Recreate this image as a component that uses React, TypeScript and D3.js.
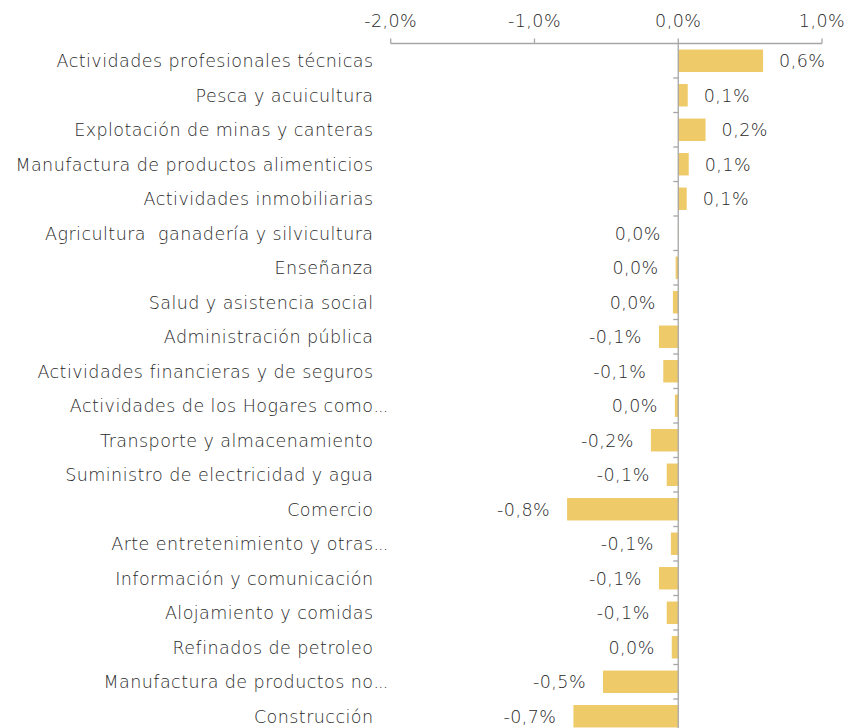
import React from "react";
import * as d3 from "d3";

// sectores (de arriba hacia abajo) y su contribución en puntos porcentuales
const sectors = [
  "Actividades profesionales técnicas",
  "Pesca y acuicultura",
  "Explotación de minas y canteras",
  "Manufactura de productos alimenticios",
  "Actividades inmobiliarias",
  "Agricultura  ganadería y silvicultura",
  "Enseñanza",
  "Salud y asistencia social",
  "Administración pública",
  "Actividades financieras y de seguros",
  "Actividades de los Hogares como...",
  "Transporte y almacenamiento",
  "Suministro de electricidad y agua",
  "Comercio",
  "Arte entretenimiento y otras...",
  "Información y comunicación",
  "Alojamiento y comidas",
  "Refinados de petroleo",
  "Manufactura de productos no...",
  "Construcción",
];

const values = [
  0.59, 0.066, 0.19, 0.073, 0.059, -0.002, -0.018, -0.037, -0.134, -0.104,
  -0.023, -0.19, -0.08, -0.773, -0.051, -0.134, -0.08, -0.045, -0.523, -0.729,
];

const xTicks = [-2, -1, 0, 1];

const W = 844;
const H = 728;
const FONT = "'DejaVu Sans', sans-serif";
const FS = 17.5;
const LS = 0.45;
const TEXT = "#2a2a2a";
const AXIS = "#a6a6a6";
const BAR = "#eeca68";

const fmt = (v: number) => {
  let r = Math.round(v * 10) / 10;
  if (Object.is(r, -0) || r === 0) r = 0;
  return r.toFixed(1).replace(".", ",") + "%";
};

export default function App() {
  const x = d3.scaleLinear().domain([-2, 1]).range([390.7, 822]);
  const y = d3
    .scaleBand<string>()
    .domain(sectors)
    .range([43.5, 43.5 + sectors.length * 34.5])
    .paddingInner(0.35)
    .paddingOuter(0.175);
  const step = y.step();
  const axisY = 43.5;
  const x0 = x(0);

  return (
    <svg
      width={W}
      height={H}
      style={{ position: "absolute", left: 0, top: 0, background: "#fff" }}
      fontFamily={FONT}
      fontWeight={200}
      letterSpacing={LS}
    >
      {/* top axis */}
      <line x1={x(-2)} x2={x(1)} y1={axisY} y2={axisY} stroke={AXIS} strokeWidth={1.3} />
      {xTicks.map((t) => (
        <g key={t}>
          <line x1={x(t)} x2={x(t)} y1={axisY - 5} y2={axisY} stroke={AXIS} strokeWidth={1.3} />
          <text x={x(t)} y={26.5} textAnchor="middle" fontSize={FS} fill={TEXT}>
            {fmt(t)}
          </text>
        </g>
      ))}

      {/* bars */}
      {sectors.map((s, i) => {
        const v = values[i];
        const bx = Math.min(x(v), x0);
        const bw = Math.abs(x(v) - x0);
        const cy = (y(s) as number) + y.bandwidth() / 2;
        const lx = v >= 0 ? x(v) + 16 : x(v) - 17;
        const truncated = s.endsWith("...");
        const name = truncated ? s.slice(0, -3) : s;
        return (
          <g key={s}>
            <rect x={bx} y={y(s)} width={bw} height={y.bandwidth()} fill={BAR} />
            <text
              x={lx}
              y={cy}
              dy="0.36em"
              textAnchor={v >= 0 ? "start" : "end"}
              fontSize={FS}
              fill={TEXT}
            >
              {fmt(v)}
            </text>
            <text
              x={373.5}
              y={cy}
              dy="0.36em"
              textAnchor="end"
              fontSize={FS}
              fill={TEXT}
              style={{ whiteSpace: "pre" }}
            >
              {name}
            </text>
            {truncated && (
              <text x={373.5} y={cy} dy="0.36em" fontSize={FS} fill={TEXT} letterSpacing={-1}>
                ...
              </text>
            )}
          </g>
        );
      })}

      {/* zero line with category ticks */}
      <line x1={x0} x2={x0} y1={axisY} y2={H} stroke={AXIS} strokeWidth={1.3} />
      {sectors.map((s, i) => (
        <line
          key={"t" + s}
          x1={x0 - 5}
          x2={x0}
          y1={axisY + step * (i + 1)}
          y2={axisY + step * (i + 1)}
          stroke={AXIS}
          strokeWidth={1.3}
        />
      ))}
    </svg>
  );
}
